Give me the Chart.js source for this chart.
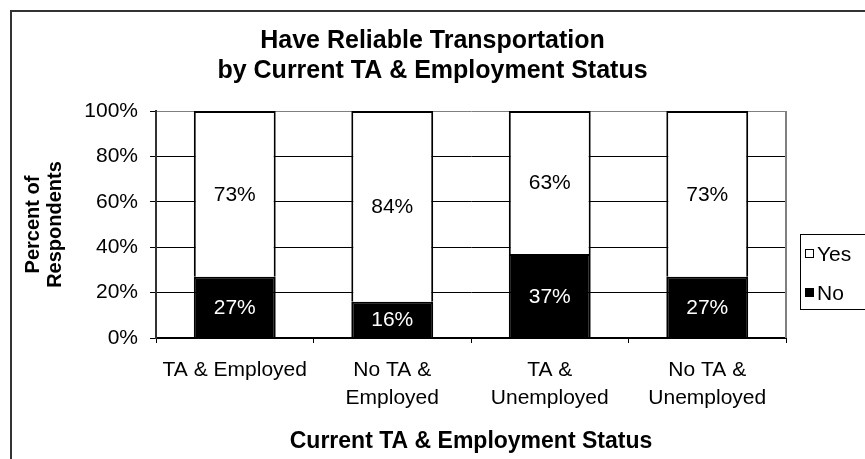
<!DOCTYPE html>
<html>
<head>
<meta charset="utf-8">
<script src="https://cdn.jsdelivr.net/npm/chart.js@4"></script>
<style>
  html, body { margin: 0; padding: 0; background: #fff; overflow: hidden; }
  #wrap { position: relative; width: 900px; height: 480px; }
</style>
</head>
<body>
<div id="wrap"><canvas id="chart" width="900" height="480"></canvas></div>
<script>
// data
const categories = [['TA & Employed'], ['No TA &', 'Employed'], ['TA &', 'Unemployed'], ['No TA &', 'Unemployed']];
const noValues = [27, 16, 37, 27];
const yesValues = [73, 84, 63, 73];
const yTicks = [0, 20, 40, 60, 80, 100];

const FONT = 'Arial, "Liberation Sans", sans-serif';

// outer border, plot frame, value labels and legend
const decor = {
    id: 'decor',
    beforeDraw(chart) {
        const ctx = chart.ctx;
        ctx.save();
        ctx.fillStyle = '#fff';
        ctx.fillRect(0, 0, chart.width, chart.height);
        ctx.strokeStyle = '#333';
        ctx.lineWidth = 2;
        ctx.strokeRect(11, 11, chart.width, chart.height);
        ctx.restore();
    },
    afterDatasetsDraw(chart) {
        const ctx = chart.ctx;
        const area = chart.chartArea;
        ctx.save();
        ctx.strokeStyle = '#808080';
        ctx.lineWidth = 2;
        ctx.beginPath();
        ctx.moveTo(area.right, area.top);
        ctx.lineTo(area.right, area.bottom);
        ctx.stroke();

        // value labels
        ctx.font = '21px ' + FONT;
        ctx.textAlign = 'center';
        ctx.textBaseline = 'middle';
        chart.data.datasets.forEach((ds, i) => {
            const meta = chart.getDatasetMeta(i);
            meta.data.forEach((bar, j) => {
                const top = Math.min(bar.y, bar.base);
                const bot = Math.max(bar.y, bar.base);
                ctx.fillStyle = ds.labelColor;
                ctx.fillText(ds.data[j] + '%', bar.x, (top + bot) / 2 + 1);
            });
        });

        // legend
        ctx.strokeStyle = '#000';
        ctx.lineWidth = 1;
        ctx.strokeRect(800.5, 234.5, 120, 75);
        const items = chart.data.datasets.slice().reverse();
        ctx.textAlign = 'left';
        items.forEach((ds, k) => {
            const cy = 254 + k * 39;
            ctx.fillStyle = ds.backgroundColor;
            ctx.fillRect(805.5, cy - 4.5, 8, 8);
            ctx.strokeStyle = '#000';
            ctx.strokeRect(805.5, cy - 4.5, 8, 8);
            ctx.fillStyle = '#000';
            ctx.fillText(ds.label, 817, cy + 1);
        });
        ctx.restore();
    }
};

new Chart(document.getElementById('chart'), {
    type: 'bar',
    data: {
        labels: categories,
        datasets: [
            {
                label: 'No',
                data: noValues,
                backgroundColor: '#000',
                borderColor: '#000',
                borderWidth: 2,
                labelColor: '#fff',
                barPercentage: 0.52,
                categoryPercentage: 1
            },
            {
                label: 'Yes',
                data: yesValues,
                backgroundColor: '#fff',
                borderColor: '#000',
                borderWidth: 2,
                labelColor: '#000',
                barPercentage: 0.52,
                categoryPercentage: 1
            }
        ]
    },
    options: {
        responsive: false,
        animation: false,
        layout: { padding: { left: 0, right: 35, top: 0, bottom: 25 } },
        plugins: {
            legend: { display: false },
            tooltip: { enabled: false },
            title: {
                display: true,
                text: ['Have Reliable Transportation', 'by Current TA & Employment Status'],
                color: '#000',
                font: { family: FONT, size: 25, weight: 'bold', lineHeight: 1.2 },
                padding: { top: 26, bottom: 25 }
            }
        },
        scales: {
            x: {
                stacked: true,
                grid: { display: true, drawOnChartArea: false, offset: true, color: '#000', tickLength: 5, tickColor: '#000' },
                border: { color: '#000', width: 2 },
                ticks: { color: '#000', font: { family: FONT, size: 21, lineHeight: 1.3 }, padding: 14, maxRotation: 0 },
                title: {
                    display: true,
                    text: 'Current TA & Employment Status',
                    color: '#000',
                    font: { family: FONT, size: 23, weight: 'bold', lineHeight: 1.2 },
                    padding: { top: 0, bottom: 0 }
                },
                afterFit(scale) { scale.height = 117; }
            },
            y: {
                stacked: true,
                min: 0,
                max: 100,
                afterBuildTicks(scale) { scale.ticks = yTicks.map(v => ({ value: v })); },
                grid: {
                    color: ctx => (ctx.tick && ctx.tick.value === 100 ? '#808080' : '#000'),
                    tickLength: 6,
                    tickColor: '#000'
                },
                border: { color: '#333', width: 2 },
                ticks: {
                    color: '#000',
                    font: { family: FONT, size: 21 },
                    padding: 12,
                    callback: v => v + '%'
                },
                title: {
                    display: true,
                    text: ['Percent of', 'Respondents'],
                    color: '#000',
                    font: { family: FONT, size: 20, weight: 'bold', lineHeight: 1.1 },
                    padding: { top: 22, bottom: 0 }
                },
                afterFit(scale) { scale.width = 156; }
            },
            y2: {
                position: 'right',
                display: true,
                grid: { display: false },
                border: { display: false },
                ticks: { display: false },
                afterFit(scale) { scale.width = 79; }
            }
        }
    },
    plugins: [decor]
});
</script>
</body>
</html>
